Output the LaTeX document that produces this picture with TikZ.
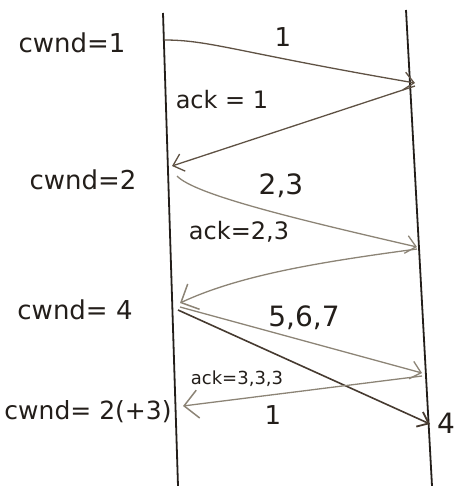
\documentclass[tikz,border=0pt]{standalone}
\usepackage{fontspec}
\setmainfont{DejaVu Sans}
\usetikzlibrary{arrows.meta}
\definecolor{ink}{RGB}{35,30,26}
\definecolor{darkline}{RGB}{95,82,68}
\definecolor{lightline}{RGB}{140,132,118}
\definecolor{boldline}{RGB}{70,58,48}
\begin{document}
\begin{tikzpicture}[x=1pt,y=-1pt,
  lifeline/.style={draw=ink,line width=1.8pt},
  msg/.style={draw=darkline,line width=1.3pt,-{Straight Barb[length=10pt,width=18pt,line width=1.3pt]}},
  msglight/.style={draw=lightline,line width=1.3pt,-{Straight Barb[length=10pt,width=18pt,line width=1.3pt]}},
  bighead/.style={-{Straight Barb[length=14pt,width=28pt,line width=1.5pt]}},
  msgbold/.style={draw=boldline,line width=1.6pt,-{Straight Barb[length=10pt,width=16pt,line width=1.8pt]}},
  lbl/.style={text=ink,inner sep=0pt,font=\fontsize{26}{30}\selectfont},
  lblmid/.style={text=ink,inner sep=0pt,font=\fontsize{24}{28}\selectfont},
  lblsmall/.style={text=ink,inner sep=0pt,font=\fontsize{18}{21}\selectfont}]
\useasboundingbox (0,0) rectangle (457,486);
% lifelines
\coordinate (LT) at (163,13);
\coordinate (LB) at (178,486);
\coordinate (RT) at (406,10);
\coordinate (RB) at (432,486);
\draw[lifeline] (LT) -- (LB);
\draw[lifeline] (RT) -- (RB);
% endpoints
\coordinate (a1) at (164,40);
\coordinate (b1) at (415,83);
\coordinate (b2) at (415,86);
\coordinate (a2) at (172,166);
\coordinate (a3) at (177,176);
\coordinate (b3) at (417,247);
\coordinate (b4) at (417,249);
\coordinate (a4) at (180,303);
\coordinate (a5) at (180,307);
\coordinate (b5) at (422,373);
\coordinate (a6) at (178,310);
\coordinate (b6) at (430,424);
\coordinate (b7) at (422,376);
\coordinate (a7) at (183,406);
% messages
\draw[msg] (a1) .. controls (210,40) and (235,52) .. (b1);
\draw[msg] (b2) -- (a2);
\draw[msglight] (a3) .. controls (195,195) and (300,220) .. (b3);
\draw[msglight,bighead] (b4) .. controls (320,262) and (240,275) .. (a4);
\draw[msglight] (a5) -- (b5);
\draw[msgbold] (a6) -- (b6);
\draw[msglight,bighead] (b7) -- (a7);
% labels
\node[lbl] (c1) at (72,43) {cwnd=1};
\node[lbl] (c2) at (83,180) {cwnd=2};
\node[lbl] (c3) at (75,310) {cwnd= 4};
\node[lbl,font=\fontsize{25}{29}\selectfont] (c4) at (88,412) {cwnd= 2(+3)};
\node[lbl] (m1) at (283,37) {1};
\node[lblmid] (k1) at (222,100) {ack = 1};
\node[lbl,font=\fontsize{28}{32}\selectfont] (m2) at (281,186) {2,3};
\node[lblmid] (k2) at (239,232) {ack=2,3};
\node[lbl,font=\fontsize{28}{32}\selectfont] (m3) at (304,318) {5,6,7};
\node[lblsmall] (k3) at (237,379) {ack=3,3,3};
\node[lbl] (m4) at (273,415) {1};
\node[lbl,font=\fontsize{28}{32}\selectfont] (m5) at (446,423) {4};
\end{tikzpicture}
\end{document}
